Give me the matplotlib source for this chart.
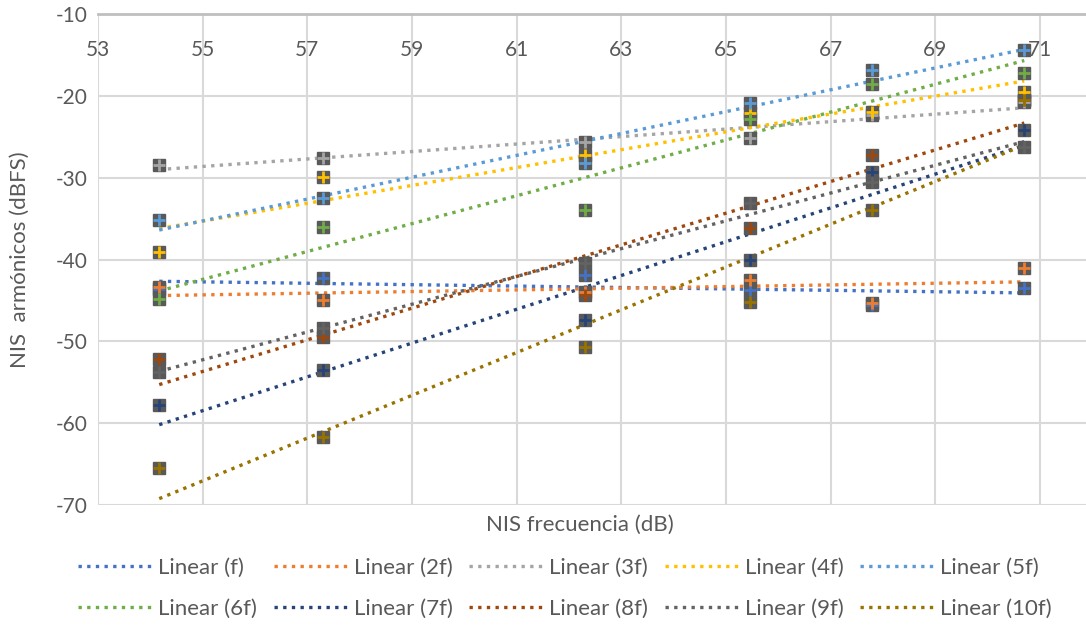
import numpy as np
import matplotlib.pyplot as plt

plt.rcParams['font.family'] = ['Lato', 'DejaVu Sans']
plt.rcParams['axes.unicode_minus'] = False

# NIS frecuencia (dB) for each measurement column
x_vals = [54.17, 57.3, 62.3, 65.45, 67.8, 70.7]

labels = ['f', '2f', '3f', '4f', '5f', '6f', '7f', '8f', '9f', '10f']
colors = ['#4472C4', '#ED7D31', '#A5A5A5', '#FFC000', '#5B9BD5',
          '#70AD47', '#264478', '#9E480E', '#636363', '#997300']

# NIS armonicos (dBFS), one list per harmonic
h_f = [-43.6, -42.3, -41.9, -43.7, -45.5, -43.5]
h_2f = [-43.3, -45.0, -44.0, -42.5, -45.3, -41.0]
h_3f = [-28.5, -27.6, -25.6, -25.2, -22.3, -20.8]
h_4f = [-39.1, -29.9, -27.2, -22.1, -22.0, -19.5]
h_5f = [-35.2, -32.5, -28.2, -20.9, -16.8, -14.4]
h_6f = [-44.8, -36.0, -34.0, -22.8, -18.5, -17.2]
h_7f = [-57.8, -53.5, -47.4, -40.1, -29.3, -24.2]
h_8f = [-52.1, -49.5, -44.3, -36.2, -27.2, -20.5]
h_9f = [-53.8, -48.4, -40.4, -33.1, -30.5, -26.3]
h_10f = [-65.5, -61.7, -50.7, -45.2, -34.0, -20.5]

series = [h_f, h_2f, h_3f, h_4f, h_5f, h_6f, h_7f, h_8f, h_9f, h_10f]

txt = '#595959'
fig = plt.figure(figsize=(10.86, 6.3), dpi=100)
ax = fig.add_axes([98 / 1086, 1 - 505 / 630, 988 / 1086, 491 / 630])

x = np.array(x_vals)
lines = []
for lab, col, y in zip(labels, colors, series):
    y = np.array(y)
    ax.plot(x, y, ls='none', marker='s', ms=8, mfc='#595959', mec='#595959', zorder=3)
    ax.plot(x, y, ls='none', marker='+', ms=9, mew=2, color=col, zorder=4)
    # Excel-style linear trendline over the data range
    k, b = np.polyfit(x, y, 1)
    xx = np.array([x.min(), x.max()])
    ln, = ax.plot(xx, k * xx + b, ls=(0, (1, 1.6)), lw=2.4, color=col, zorder=2,
                  label=f'Linear ({lab})')
    lines.append(ln)

ax.set_xlim(53, 71.88)
ax.set_ylim(-70, -10)
ax.set_xticks(np.arange(53, 72, 2))
ax.set_yticks(np.arange(-70, -9, 10))
ax.grid(True, color='#D9D9D9', lw=1.5, zorder=0)
ax.set_axisbelow(True)
for s in ['bottom', 'right', 'left']:
    ax.spines[s].set_visible(False)
ax.spines['top'].set_color('#BFBFBF')
ax.spines['top'].set_linewidth(2)

ax.tick_params(axis='x', top=False, bottom=False, labeltop=True, labelbottom=False,
               pad=-22, labelsize=15, labelcolor=txt)
for t in ax.get_xticklabels():
    t.set_va('top')
ax.tick_params(axis='y', left=False, labelsize=15, labelcolor=txt, pad=4)

ax.set_ylabel('NIS  armónicos (dBFS)', fontsize=16, color=txt)
ax.yaxis.set_label_coords(-68 / 988, 0.5)
fig.text(580 / 1086, 1 - 525 / 630, 'NIS frecuencia (dB)', fontsize=16, color=txt,
         ha='center', va='center')

order = [0, 5, 1, 6, 2, 7, 3, 8, 4, 9]
leg = fig.legend([lines[i] for i in order], [lines[i].get_label() for i in order],
                 ncol=5, loc='center', bbox_to_anchor=(565 / 1086, 1 - 588 / 630),
                 frameon=False, fontsize=16, handlelength=3.4, columnspacing=0.75,
                 labelspacing=0.95, handletextpad=0.2)
for t in leg.get_texts():
    t.set_color(txt)

fig.savefig('out.png', dpi=100)
